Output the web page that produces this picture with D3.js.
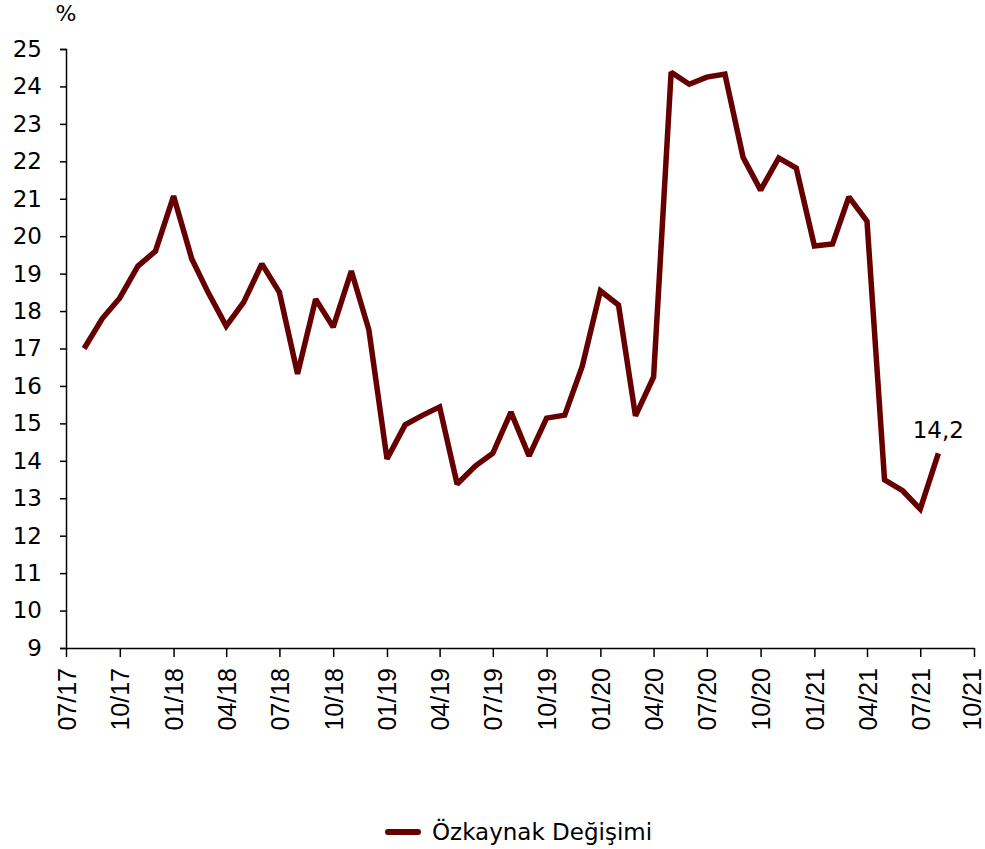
<!DOCTYPE html>
<html>
<head>
<meta charset="utf-8">
<script src="https://cdn.jsdelivr.net/npm/d3@7"></script>
<style>
  body { margin: 0; background: #fff; }
  svg { display: block; }
</style>
</head>
<body>
<svg width="985" height="849"></svg>
<script>
// monthly, 08/17 .. 08/21
var months = ["2017-08","2017-09","2017-10","2017-11","2017-12",
  "2018-01","2018-02","2018-03","2018-04","2018-05","2018-06","2018-07","2018-08","2018-09","2018-10","2018-11","2018-12",
  "2019-01","2019-02","2019-03","2019-04","2019-05","2019-06","2019-07","2019-08","2019-09","2019-10","2019-11","2019-12",
  "2020-01","2020-02","2020-03","2020-04","2020-05","2020-06","2020-07","2020-08","2020-09","2020-10","2020-11","2020-12",
  "2021-01","2021-02","2021-03","2021-04","2021-05","2021-06","2021-07","2021-08"];
var values = [17.0, 17.8, 18.35, 19.2, 19.6,
  21.07, 19.4, 18.5, 17.6, 18.24, 19.26, 18.5, 16.32, 18.32, 17.57, 19.07, 17.5,
  14.05, 14.96, 15.2, 15.44, 13.38, 13.86, 14.2, 15.3, 14.13, 15.14, 15.22, 16.53,
  18.54, 18.16, 15.2, 16.24, 24.38, 24.06, 24.25, 24.33, 22.11, 21.23, 22.09, 21.82,
  19.74, 19.79, 21.05, 20.4, 13.49, 13.2, 12.71, 14.2];
var xTicks = ["2017-07","2017-10","2018-01","2018-04","2018-07","2018-10","2019-01","2019-04","2019-07","2019-10",
  "2020-01","2020-04","2020-07","2020-10","2021-01","2021-04","2021-07","2021-10"];
var yTicks = d3.range(9, 26);
var seriesName = "Özkaynak Değişimi";
var lastLabel = "14,2";

var parse = d3.timeParse("%Y-%m");
var fmt = d3.timeFormat("%m/%y");
var data = months.map(function(m, i){ return {date: parse(m), value: values[i]}; });

var svg = d3.select("svg");
var color = "#660000";

var x = d3.scaleTime()
    .domain([parse("2017-07"), parse("2021-10")])
    .range([66, 974]);
var y = d3.scaleLinear()
    .domain([9, 25])
    .range([648, 49]);

// y axis
var yAxis = svg.append("g")
    .attr("transform", "translate(66,0)")
    .call(d3.axisLeft(y).tickValues(yTicks).tickSize(6).tickPadding(18).tickFormat(d3.format("d")));
yAxis.select(".domain").attr("stroke", "#000").attr("stroke-width", 1.5);
yAxis.selectAll(".tick line").attr("stroke", "#000").attr("stroke-width", 1.5);
yAxis.selectAll("text")
    .attr("fill", "#000")
    .attr("font-family", "'DejaVu Sans'")
    .attr("font-size", 23);

// x axis
var xAxis = svg.append("g")
    .attr("transform", "translate(0,648)")
    .call(d3.axisBottom(x).tickValues(xTicks.map(parse)).tickSize(9).tickSizeOuter(0).tickFormat(fmt));
xAxis.select(".domain").attr("stroke", "#000").attr("stroke-width", 1.5);
xAxis.selectAll(".tick line").attr("stroke", "#000").attr("stroke-width", 1.5);
xAxis.selectAll("text")
    .attr("fill", "#000")
    .attr("transform", "rotate(-90)")
    .attr("text-anchor", "end")
    .attr("x", -20)
    .attr("y", function(d, i){ return i === xTicks.length - 1 ? -3 : 0; }) // keep last label inside the page
    .attr("dy", "0.36em")
    .attr("font-family", "'Liberation Sans', Arial")
    .attr("font-size", 25);

svg.append("text")
    .attr("x", 66).attr("y", 21)
    .attr("text-anchor", "middle")
    .attr("font-family", "'DejaVu Sans'")
    .attr("font-size", 22)
    .text("%");

// line
var line = d3.line()
    .x(function(d){ return x(d.date); })
    .y(function(d){ return y(d.value); });

svg.append("path")
    .datum(data)
    .attr("fill", "none")
    .attr("stroke", color)
    .attr("stroke-width", 5.5)
    .attr("stroke-linejoin", "miter")
    .attr("stroke-miterlimit", 2)
    .attr("d", line);

var last = data[data.length - 1];
svg.append("text")
    .attr("x", x(last.date))
    .attr("y", y(last.value) - 15)
    .attr("text-anchor", "middle")
    .attr("font-family", "'DejaVu Sans'")
    .attr("font-size", 23)
    .text(lastLabel);

// legend
var lg = svg.append("g").attr("transform", "translate(386,832)");
lg.append("line")
    .attr("x1", 2).attr("x2", 32)
    .attr("stroke", color).attr("stroke-width", 6).attr("stroke-linecap", "round");
lg.append("text")
    .attr("x", 46).attr("y", 0).attr("dy", "0.36em")
    .attr("font-family", "'DejaVu Sans'")
    .attr("font-size", 23)
    .text(seriesName);
</script>
</body>
</html>
